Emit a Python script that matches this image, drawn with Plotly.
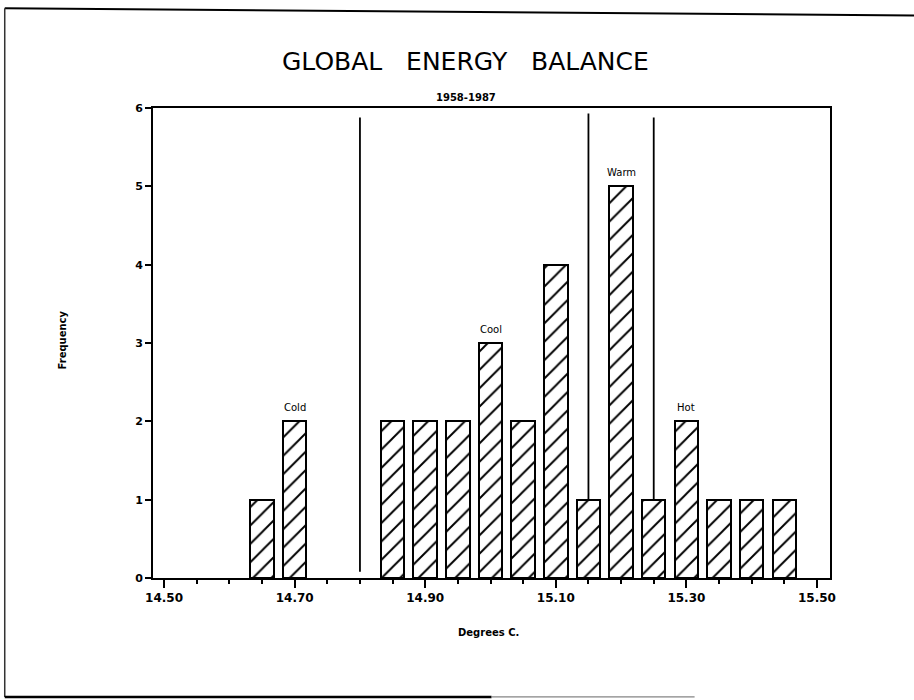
import plotly.graph_objects as go

# Annual global mean temperature histogram, 1958-1987
temps = [14.65, 14.70, 14.85, 14.90, 14.95, 15.00, 15.05, 15.10,
         15.15, 15.20, 15.25, 15.30, 15.35, 15.40, 15.45]
freq = [1, 2, 2, 2, 2, 3, 2, 4, 1, 5, 1, 2, 1, 1, 1]

# Class boundaries drawn as vertical dividers (x, lower end, upper end)
boundary_x = [14.80, 15.15, 15.25]
boundary_lo = [0.08, 1.0, 1.0]
boundary_hi = [5.88, 5.93, 5.88]

# Class names placed above a representative bar
class_x = [14.70, 15.00, 15.20, 15.30]
class_names = ["Cold", "Cool", "Warm", "Hot"]

x_tickvals = [14.50, 14.70, 14.90, 15.10, 15.30, 15.50]
y_tickvals = [0, 1, 2, 3, 4, 5, 6]

FONT = "DejaVu Sans"
SP = "\u00a0" * 3

fig = go.Figure()

fig.add_trace(go.Bar(
    x=temps, y=freq, width=0.036,
    marker=dict(
        color="white",
        line=dict(color="black", width=2),
        pattern=dict(shape="/", fgcolor="black", bgcolor="white",
                     size=13, solidity=0.15, fgopacity=1),
    ),
    showlegend=False, hoverinfo="x+y",
))

for bx, lo, hi in zip(boundary_x, boundary_lo, boundary_hi):
    fig.add_trace(go.Scatter(
        x=[bx, bx], y=[lo, hi], mode="lines",
        line=dict(color="black", width=1.8),
        showlegend=False, hoverinfo="skip",
    ))

freq_at = dict(zip(temps, freq))
annotations = []
for cx, name in zip(class_x, class_names):
    annotations.append(dict(
        x=cx, y=freq_at[cx], xref="x", yref="y", text=name,
        showarrow=False, yanchor="bottom", yshift=6,
        font=dict(family=FONT, size=10, color="black"),
    ))

annotations += [
    dict(x=0.462, y=1.098, xref="paper", yref="paper",
         text="GLOBAL" + SP + "ENERGY" + SP + "BALANCE",
         showarrow=False, xanchor="center", yanchor="middle",
         font=dict(family=FONT, size=25, color="black")),
    dict(x=0.462, y=1.023, xref="paper", yref="paper", text="<b>1958-1987</b>",
         showarrow=False, xanchor="center", yanchor="middle",
         font=dict(family=FONT, size=10, color="black")),
    dict(x=0.496, y=-0.115, xref="paper", yref="paper", text="<b>Degrees C.</b>",
         showarrow=False, xanchor="center", yanchor="middle",
         font=dict(family=FONT, size=10, color="black")),
    dict(x=-0.134, y=0.506, xref="paper", yref="paper", text="<b>Frequency</b>",
         showarrow=False, xanchor="center", yanchor="middle", textangle=-90,
         font=dict(family=FONT, size=10, color="black")),
]

# Page frame around the whole figure
shapes = [
    dict(type="line", xref="paper", yref="paper", x0=-0.219, x1=1.13,
         y0=1.212, y1=1.197, line=dict(color="black", width=2)),
    dict(type="line", xref="paper", yref="paper", x0=-0.219, x1=-0.219,
         y0=1.212, y1=-0.253, line=dict(color="#333", width=1.5)),
    dict(type="line", xref="paper", yref="paper", x0=-0.219, x1=0.50,
         y0=-0.253, y1=-0.253, line=dict(color="black", width=2.5)),
    dict(type="line", xref="paper", yref="paper", x0=0.50, x1=0.80,
         y0=-0.253, y1=-0.253, line=dict(color="#666", width=1)),
]

fig.update_layout(
    width=914, height=700,
    margin=dict(l=153, r=84, t=108, b=122),
    paper_bgcolor="white", plot_bgcolor="white",
    bargap=0,
    annotations=annotations,
    shapes=shapes,
    font=dict(family=FONT, color="black"),
)

fig.update_xaxes(
    range=[14.483, 15.52],
    tickvals=x_tickvals, tickformat=".2f",
    ticks="outside", ticklen=8, tickwidth=1.5, tickcolor="black",
    minor=dict(dtick=0.05, tick0=14.5, ticks="outside", ticklen=4,
               tickwidth=1.5, tickcolor="black", showgrid=False),
    showline=True, linecolor="black", linewidth=2, mirror=True,
    showgrid=False, zeroline=False,
    tickfont=dict(family=FONT, size=12, color="black", weight="bold"),
)

fig.update_yaxes(
    range=[0, 6],
    tickvals=y_tickvals,
    ticks="outside", ticklen=6, tickwidth=1.5, tickcolor="black",
    showline=True, linecolor="black", linewidth=2, mirror=True,
    showgrid=False, zeroline=False,
    tickfont=dict(family=FONT, size=11, color="black", weight="bold"),
)

fig.write_html("out.html")
